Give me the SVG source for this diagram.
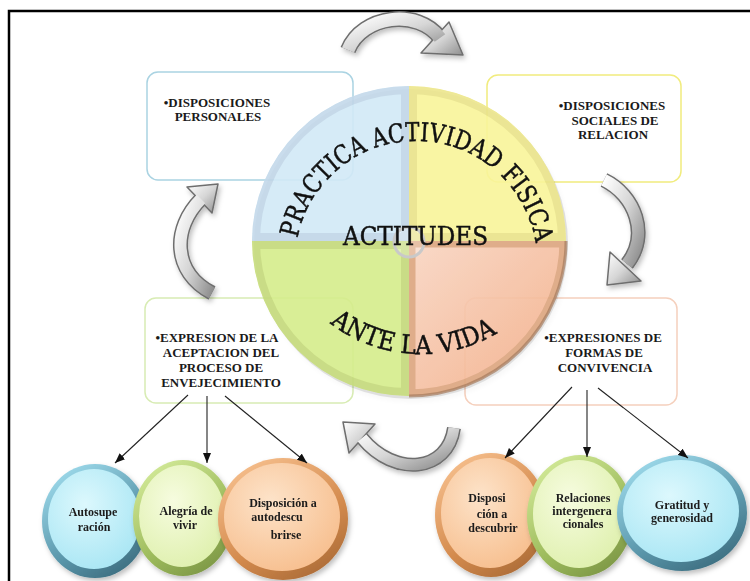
<svg xmlns="http://www.w3.org/2000/svg" width="750" height="581" viewBox="0 0 750 581">
<style>
.bt{font-family:"Liberation Serif","Times New Roman",serif;font-weight:bold;font-size:13px;fill:#1a1a1a;text-anchor:middle}
.ct{font-family:"Liberation Serif","Times New Roman",serif;font-weight:bold;font-size:12px;fill:#1a1a1a;text-anchor:middle}
.big{font-family:"DejaVu Serif","Liberation Serif",serif;font-size:26px;fill:#111;stroke:#111;stroke-width:0.5}
.box{fill:#ffffff;stroke-width:1.5}
.conn{stroke:#222;stroke-width:1.1;fill:none;marker-end:url(#ah)}
.shO{fill:none;stroke:#6e6e6e}
.shI{fill:none;stroke:url(#gArr)}
.head{fill:url(#gArr);stroke:#6e6e6e;stroke-width:1.5;stroke-linejoin:round}
</style>
<defs>
<marker id="ah" markerUnits="userSpaceOnUse" markerWidth="10" markerHeight="8" refX="10" refY="4" orient="auto">
<path d="M0,0 L10,4 L0,8 Z" fill="#111"/>
</marker>
<linearGradient id="gArr" x1="0" y1="0" x2="1" y2="1">
<stop offset="0" stop-color="#ffffff"/>
<stop offset="0.5" stop-color="#d6d6d6"/>
<stop offset="1" stop-color="#8e8e8e"/>
</linearGradient>
<linearGradient id="rimB" x1="0.2" y1="0" x2="0.8" y2="1"><stop offset="0" stop-color="#9fdced"/><stop offset="0.6" stop-color="#5b97ab"/><stop offset="1" stop-color="#3a6a7c"/></linearGradient>
<radialGradient id="faceB" cx="0.4" cy="0.35" r="0.7"><stop offset="0" stop-color="#dcf8fd"/><stop offset="1" stop-color="#a9e6f4"/></radialGradient>
<linearGradient id="rimG" x1="0.2" y1="0" x2="0.8" y2="1"><stop offset="0" stop-color="#d4eb9a"/><stop offset="0.6" stop-color="#9dbb5c"/><stop offset="1" stop-color="#7a9444"/></linearGradient>
<radialGradient id="faceG" cx="0.4" cy="0.35" r="0.7"><stop offset="0" stop-color="#f6fcdf"/><stop offset="1" stop-color="#dff0ae"/></radialGradient>
<linearGradient id="rimO" x1="0.2" y1="0" x2="0.8" y2="1"><stop offset="0" stop-color="#f7c08e"/><stop offset="0.6" stop-color="#d38a4d"/><stop offset="1" stop-color="#a96a36"/></linearGradient>
<radialGradient id="faceO" cx="0.4" cy="0.35" r="0.7"><stop offset="0" stop-color="#fde3c9"/><stop offset="1" stop-color="#f7bf8f"/></radialGradient>
<linearGradient id="gOr" x1="0" y1="0" x2="1" y2="1"><stop offset="0" stop-color="#fcd9c6"/><stop offset="1" stop-color="#f6ae86"/></linearGradient>
<filter id="sh" x="-20%" y="-20%" width="140%" height="140%"><feDropShadow dx="2" dy="3" stdDeviation="2.5" flood-color="#000" flood-opacity="0.25"/></filter>
<clipPath id="c1"><path d="M409,241 L252,241 A157,155 0 0 1 409,86 Z"/></clipPath>
<clipPath id="c2"><path d="M409,241 L409,86 A157,155 0 0 1 566,241 Z"/></clipPath>
<clipPath id="c3"><path d="M409,241 L566,241 A157,155 0 0 1 409,396 Z"/></clipPath>
<clipPath id="c4"><path d="M409,241 L409,396 A157,155 0 0 1 252,241 Z"/></clipPath>
<path id="arcTop" d="M295,262 A121,121 0 0 1 537,262"/>
<path id="arcBot" d="M315.6,310.4 A149,149 0 0 0 526.4,310.4"/>
</defs>
<rect width="750" height="581" fill="#ffffff"/>
<path d="M9,600 L9,11 L760,11" fill="none" stroke="#000" stroke-width="2.5"/>

<g id="box-personales">
<rect class="box" x="147" y="72" width="206" height="108" rx="11" stroke="#aad3e2"/>
<text class="bt" x="217" y="107">•DISPOSICIONES</text>
<text class="bt" x="218" y="121">PERSONALES</text>
</g>
<g id="box-sociales">
<rect class="box" x="487" y="75" width="194" height="107" rx="11" stroke="#f1ec7e"/>
<text class="bt" x="612" y="110">•DISPOSICIONES</text>
<text class="bt" x="615" y="125">SOCIALES DE</text>
<text class="bt" x="613" y="139">RELACION</text>
</g>
<g id="box-envejecimiento">
<rect class="box" x="145" y="298" width="208" height="105" rx="11" stroke="#d8ecb4"/>
<text class="bt" x="217" y="342">•EXPRESION DE LA</text>
<text class="bt" x="221" y="357">ACEPTACION DEL</text>
<text class="bt" x="221" y="372">PROCESO DE</text>
<text class="bt" x="221" y="387">ENVEJECIMIENTO</text>
</g>
<g id="box-convivencia">
<rect class="box" x="465" y="298" width="212" height="107" rx="11" stroke="#f5d0bd"/>
<text class="bt" x="603" y="342">•EXPRESIONES DE</text>
<text class="bt" x="604" y="357">FORMAS DE</text>
<text class="bt" x="605" y="372">CONVIVENCIA</text>
</g>

<g id="center-circle">
<ellipse cx="411" cy="244" rx="157" ry="155" fill="#000" opacity="0.12" filter="url(#sh)"/>
<g opacity="0.9">
<path clip-path="url(#c1)" d="M409,241 L252,241 A157,155 0 0 1 409,86 Z" fill="#d5ecfa" stroke="#c3d9ea" stroke-width="16"/>
<path clip-path="url(#c2)" d="M409,241 L409,86 A157,155 0 0 1 566,241 Z" fill="#fcf89c" stroke="#ece68c" stroke-width="16"/>
<path clip-path="url(#c3)" d="M409,241 L566,241 A157,155 0 0 1 409,396 Z" fill="url(#gOr)" stroke="#dfa781" stroke-width="13"/>
<path clip-path="url(#c4)" d="M409,241 L409,396 A157,155 0 0 1 252,241 Z" fill="#d9f08e" stroke="#c7dc7c" stroke-width="16"/>
</g>
<path d="M566,241 A157,155 0 0 1 409,396" fill="none" stroke="#a57a5c" stroke-width="3" opacity="0.7"/>
<circle cx="409" cy="242" r="15" fill="#ffffff" fill-opacity="0.25" stroke="#c9c9c9" stroke-width="3"/>
<text class="big"><textPath href="#arcTop" startOffset="24" textLength="337" lengthAdjust="spacingAndGlyphs">PRACTICA ACTIVIDAD FISICA</textPath></text>
<text class="big" x="343" y="245" textLength="145" lengthAdjust="spacingAndGlyphs">ACTITUDES</text>
<text class="big" font-size="27"><textPath href="#arcBot" startOffset="19" textLength="178" lengthAdjust="spacingAndGlyphs">ANTE LA VIDA</textPath></text>
</g>

<g id="cycle-arrows" filter="url(#sh)">
<g>
<path class="shO" stroke-width="16" d="M348,50 C362,15 418,8 440,38"/>
<polygon class="head" points="449,22 463,55 421,53"/>
<path class="shI" stroke-width="13" d="M348,50 C362,15 418,8 440,38"/>
</g>
<g>
<path class="shO" stroke-width="15" d="M604,180 C635,195 650,235 627,264"/>
<polygon class="head" points="610,252 641,281 607,285"/>
<path class="shI" stroke-width="12" d="M604,180 C635,195 650,235 627,264"/>
</g>
<g>
<path class="shO" stroke-width="15" d="M212,293 C172,272 172,228 201,199"/>
<polygon class="head" points="187,187 212,213 218,184"/>
<path class="shI" stroke-width="12" d="M212,293 C172,272 172,228 201,199"/>
</g>
<g>
<path class="shO" stroke-width="14" d="M454,428 C448,472 395,478 362,438"/>
<polygon class="head" points="375,424 349,453 343,422"/>
<path class="shI" stroke-width="11" d="M454,428 C448,472 395,478 362,438"/>
</g>
</g>

<g id="node-autosuperacion" filter="url(#sh)">
<ellipse cx="95" cy="521" rx="53" ry="57" fill="url(#rimB)"/>
<ellipse cx="94" cy="519" rx="46" ry="50" fill="url(#faceB)"/>
<text class="ct" x="93" y="516">Autosupe</text>
<text class="ct" x="94" y="531">ración</text>
</g>
<g id="node-alegria" filter="url(#sh)">
<ellipse cx="183" cy="518" rx="50" ry="58" fill="url(#rimG)"/>
<ellipse cx="182" cy="516" rx="43" ry="51" fill="url(#faceG)"/>
<text class="ct" x="186" y="515">Alegría de</text>
<text class="ct" x="185" y="529">vivir</text>
</g>
<g id="node-autodescubrirse" filter="url(#sh)">
<ellipse cx="283" cy="519" rx="65" ry="61" fill="url(#rimO)"/>
<ellipse cx="282" cy="517" rx="58" ry="54" fill="url(#faceO)"/>
<text class="ct" x="283" y="507">Disposición  a</text>
<text class="ct" x="277" y="521">autodescu</text>
<text class="ct" x="286" y="539">brirse</text>
</g>
<g id="node-descubrir" filter="url(#sh)">
<ellipse cx="491" cy="515" rx="56" ry="62" fill="url(#rimO)"/>
<ellipse cx="490" cy="513" rx="49" ry="55" fill="url(#faceO)"/>
<text class="ct" x="487" y="502">Disposi</text>
<text class="ct" x="492" y="518">ción a</text>
<text class="ct" x="493" y="532">descubrir</text>
</g>
<g id="node-intergeneracionales" filter="url(#sh)">
<ellipse cx="580" cy="516" rx="53" ry="61" fill="url(#rimG)"/>
<ellipse cx="579" cy="514" rx="46" ry="54" fill="url(#faceG)"/>
<text class="ct" x="583" y="502">Relaciones</text>
<text class="ct" x="582" y="515">intergenera</text>
<text class="ct" x="583" y="528">cionales</text>
</g>
<g id="node-gratitud" filter="url(#sh)">
<ellipse cx="682" cy="513" rx="65" ry="58" fill="url(#rimB)"/>
<ellipse cx="681" cy="511" rx="58" ry="51" fill="url(#faceB)"/>
<text class="ct" x="682" y="509">Gratitud y</text>
<text class="ct" x="682" y="522">generosidad</text>
</g>

<g id="connectors">
<line class="conn" x1="188" y1="395" x2="115" y2="463"/>
<line class="conn" x1="207" y1="396" x2="207" y2="463"/>
<line class="conn" x1="225" y1="396" x2="307" y2="463"/>
<line class="conn" x1="572" y1="387" x2="505" y2="458"/>
<line class="conn" x1="587" y1="390" x2="587" y2="457"/>
<line class="conn" x1="598" y1="388" x2="688" y2="458"/>
</g>
</svg>
